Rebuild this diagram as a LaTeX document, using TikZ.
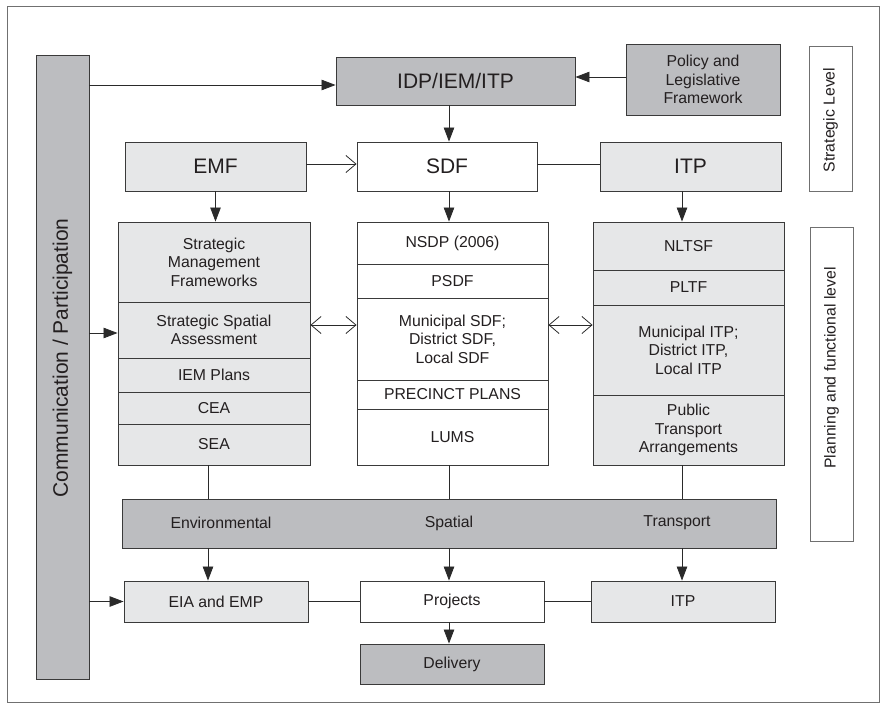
\documentclass[tikz,border=0pt]{standalone}
\usepackage{fontspec}
\setmainfont{Liberation Sans}
\usetikzlibrary{arrows.meta}
\definecolor{dkgray}{HTML}{BCBDC0}
\definecolor{ltgray}{HTML}{E6E7E8}
\definecolor{bd}{HTML}{3A3A3A}
\definecolor{frm}{HTML}{707070}
\definecolor{txt}{HTML}{231F20}
\definecolor{lnc}{HTML}{2A2A2A}
\tikzset{
  cell/.style={draw=bd, line width=0.9pt, inner sep=0pt, align=center, text=txt,
    font=\fontsize{15.8}{18.5}\selectfont},
  dk/.style={fill=dkgray},
  lt/.style={fill=ltgray},
  wh/.style={fill=white},
  big/.style={font=\fontsize{21}{24}\selectfont},
  lbl/.style={inner sep=0pt, text=txt, font=\fontsize{15.8}{18.5}\selectfont},
  conn/.style={draw=lnc, line width=0.8pt},
  arr/.style={conn, -{Triangle[length=14pt,width=10.5pt]}},
  oarr/.style={conn, -{Straight Barb[length=10pt,width=17pt,line width=0.8pt]}},
  dbl/.style={conn, {Straight Barb[length=10pt,width=17pt,line width=0.8pt]}-{Straight Barb[length=10pt,width=17pt,line width=0.8pt]}}
}
\newcommand\mybox[7][]{\node[cell,#1,minimum width={(#5)-(#3)},minimum height={(#6)-(#4)}] (#2) at ({((#3)+(#5))/2},{((#4)+(#6))/2}) {#7};}
\begin{document}
\begin{tikzpicture}[x=1pt,y=-1pt]
\useasboundingbox (0,0) rectangle (881,704);
\draw[frm, line width=0.9pt] (7,6) rectangle (879.5,702);

% left bar
\mybox[dk]{comm}{36}{55}{89}{679}{}
\node[lbl, rotate=90, font=\fontsize{21}{24}\selectfont] (commt) at (62.5,358) {Communication / Participation};

% top row
\mybox[dk,big]{IDP}{336}{57}{575}{105}{IDP/IEM/ITP}
\mybox[dk]{Policy}{626}{44}{780}{115}{Policy and\\Legislative\\Framework}
\mybox[wh,draw=frm]{strat}{809}{46}{852}{191}{}
\node[lbl, rotate=90] (stratt) at (830.5,120) {Strategic Level};

\mybox[lt,big]{EMF}{125}{142}{306}{191}{EMF}
\mybox[wh,big]{SDF}{357}{142}{537}{191}{SDF}
\mybox[lt,big]{ITP}{600}{142}{781}{191}{ITP}

% left column
\mybox[lt]{SMF}{118}{222}{310}{302}{Strategic\\Management\\Frameworks}
\mybox[lt]{SSA}{118}{302}{310}{358}{Strategic Spatial\\Assessment}
\mybox[lt]{IEMP}{118}{358}{310}{392}{IEM Plans}
\mybox[lt]{CEA}{118}{392}{310}{424}{CEA}
\mybox[lt]{SEA}{118}{424}{310}{465}{SEA}

% middle column
\mybox[wh]{NSDP}{357}{222}{548}{264}{NSDP (2006)}
\mybox[wh]{PSDF}{357}{264}{548}{298}{PSDF}
\mybox[wh]{Muni}{357}{298}{548}{380}{Municipal SDF;\\District SDF,\\Local SDF}
\mybox[wh]{Prec}{357}{380}{548}{409}{PRECINCT PLANS}
\mybox[wh]{LUMS}{357}{409}{548}{465}{LUMS}

% right column
\mybox[lt]{NLTSF}{593}{222}{784}{270}{NLTSF}
\mybox[lt]{PLTF}{593}{270}{784}{305}{PLTF}
\mybox[lt]{MITP}{593}{305}{784}{395}{Municipal ITP;\\District ITP,\\Local ITP}
\mybox[lt]{PTA}{593}{395}{784}{465}{Public\\Transport\\Arrangements}

\mybox[wh,draw=frm]{plan}{810}{227}{853}{541}{}
\node[lbl, rotate=90] (plant) at (831.5,368) {Planning and functional level};

% band
\mybox[dk]{band}{122}{499}{776}{548}{}
\node[lbl] (envt) at (221,523) {Environmental};
\node[lbl] (spat) at (449,523) {Spatial};
\node[lbl] (trat) at (677,523) {Transport};

% bottom row
\mybox[lt]{EIA}{124}{581}{308}{622}{EIA and EMP}
\mybox[wh]{Proj}{360}{581}{544}{622}{Projects}
\mybox[lt]{ITPb}{591}{581}{775}{622}{ITP}
\mybox[dk]{Deliv}{360}{644}{544}{684}{Delivery}

\coordinate (xL) at (208,0);
\coordinate (xM) at (449,0);
\coordinate (xR) at (682,0);

% connectors top
\draw[arr] ([yshift=-4pt]IDP.west -| comm.east) -- ([yshift=-4pt]IDP.west);
\draw[arr] ([yshift=2.5pt]Policy.west) -- ([yshift=2.5pt]Policy.west -| IDP.east);
\draw[arr] (IDP.south -| xM) -- (SDF.north -| xM);
\draw[oarr] ([yshift=2.5pt]EMF.east) -- ([yshift=2.5pt]EMF.east -| SDF.west);
\draw[conn] ([yshift=2.5pt]EMF.east -| SDF.east) -- ([yshift=2.5pt]EMF.east -| ITP.west);
\draw[arr] (EMF.south) -- (EMF.south |- SMF.north);
\draw[arr] (SDF.south -| xM) -- (NSDP.north -| xM);
\draw[arr] (ITP.south -| xR) -- (NLTSF.north -| xR);

% middle connectors
\draw[dbl] ([yshift=5pt]SSA.east) -- ([yshift=5pt]SSA.east -| Muni.west);
\draw[dbl] ([yshift=5pt]SSA.east -| Muni.east) -- ([yshift=5pt]SSA.east -| MITP.west);
\draw[arr] ([yshift=-3pt]SSA.west -| comm.east) -- ([yshift=-3pt]SSA.west);

\draw[conn] (SEA.south -| xL) -- (band.north -| xL);
\draw[conn] (LUMS.south -| xM) -- (band.north -| xM);
\draw[conn] (PTA.south -| xR) -- (band.north -| xR);

% bottom connectors
\draw[arr] (band.south -| xL) -- (EIA.north -| xL);
\draw[arr] (band.south -| xM) -- (Proj.north -| xM);
\draw[arr] (band.south -| xR) -- (ITPb.north -| xR);
\draw[arr] (EIA.west -| comm.east) -- (EIA.west);
\draw[conn] (EIA.east) -- (Proj.west);
\draw[conn] (Proj.east) -- (ITPb.west);
\draw[arr] (Proj.south -| xM) -- (Deliv.north -| xM);
\end{tikzpicture}
\end{document}
